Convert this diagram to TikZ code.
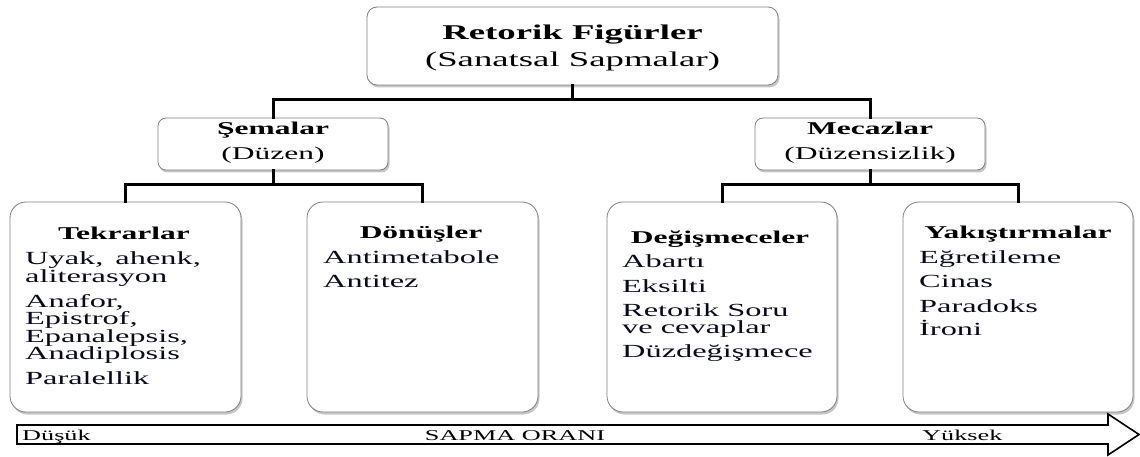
\documentclass[tikz,border=0pt]{standalone}
\usepackage{fontspec}
\setmainfont[FakeStretch=1.75]{Liberation Serif}
\usetikzlibrary{shadows}
\definecolor{itemc}{RGB}{10,10,28}
\definecolor{boxline}{RGB}{128,128,128}
\begin{document}
\begin{tikzpicture}[x=1pt,y=-1pt,
  box/.style={draw=boxline, line width=0.8pt, fill=white, rounded corners=10pt,
    drop shadow={shadow xshift=1.5pt, shadow yshift=-2.5pt, opacity=0.45, fill=gray},
    inner sep=0pt},
  bigbox/.style={box, rounded corners=16pt},
  conn/.style={line width=3pt, line cap=rect},
  ttl/.style={font=\fontsize{21pt}{23pt}\selectfont, inner sep=0pt, anchor=base},
  sub/.style={font=\fontsize{18pt}{20pt}\selectfont, inner sep=0pt, anchor=base},
  head/.style={font=\fontsize{18pt}{20pt}\selectfont\bfseries, inner sep=0pt, anchor=base},
  item/.style={font=\fontsize{18.5pt}{20pt}\selectfont, text=itemc, inner sep=0pt, anchor=base west},
  arr/.style={font=\fontsize{15pt}{17pt}\selectfont, inner sep=0pt, anchor=base}
]
\useasboundingbox (0,0) rectangle (1140,457);

% boxes
\node[box, minimum width=411pt, minimum height=78pt] (top) at (572.5,46) {};
\node[box, rounded corners=8pt, minimum width=230pt, minimum height=52pt] (sem) at (273,144) {};
\node[box, rounded corners=8pt, minimum width=230pt, minimum height=52pt] (mec) at (870,144) {};
\node[bigbox, minimum width=231pt, minimum height=210pt] (tek) at (125.5,307) {};
\node[bigbox, minimum width=231pt, minimum height=210pt] (don) at (422.5,307) {};
\node[bigbox, minimum width=230pt, minimum height=210pt] (deg) at (722,307) {};
\node[bigbox, minimum width=230pt, minimum height=210pt] (yak) at (1018,307) {};

% connectors
\coordinate (j1) at (572.5,100);
\coordinate (j2) at (273,185);
\coordinate (j3) at (870,185);
\draw[conn] (top.south) -- (j1);
\draw[conn] (sem.north) |- (j1) -| (mec.north);
\draw[conn] (sem.south) -- (j2);
\draw[conn] (tek.north) |- (j2) -| (don.north);
\draw[conn] (mec.south) -- (j3);
\draw[conn] (deg.north) |- (j3) -| (yak.north);

% top texts
\node[ttl, font=\fontsize{21pt}{23pt}\selectfont\bfseries] (t1) at (572.5,40) {Retorik Figürler};
\node[ttl] (t2) at (572.5,67) {(Sanatsal Sapmalar)};
\node[head] (s1) at (273,135) {Şemalar};
\node[sub] (s2) at (273,160) {(Düzen)};
\node[head] (m1) at (870,135) {Mecazlar};
\node[sub] (m2) at (870,160) {(Düzensizlik)};

% Tekrarlar
\node[head] (th) at (124,240) {Tekrarlar};
\node[item] (ti1) at (25,264) {Uyak,\hspace{4pt} ahenk,};
\node[item] (ti2) at (25,282) {aliterasyon};
\node[item] (ti3) at (25,307) {Anafor,};
\node[item] (ti4) at (25,324) {Epistrof,};
\node[item] (ti5) at (25,342) {Epanalepsis,};
\node[item] (ti6) at (25,359) {Anadiplosis};
\node[item] (ti7) at (25,384) {Paralellik};

% Dönüşler
\node[head] (dh) at (421,238) {Dönüşler};
\node[item] (di1) at (323,263) {Antimetabole};
\node[item] (di2) at (323,287) {Antitez};

% Değişmeceler
\node[head] (gh) at (720,243) {Değişmeceler};
\node[item] (gi1) at (622,267) {Abartı};
\node[item] (gi2) at (622,292) {Eksilti};
\node[item] (gi3) at (622,316) {Retorik Soru};
\node[item] (gi4) at (622,333) {ve cevaplar};
\node[item] (gi5) at (622,357) {Düzdeğişmece};

% Yakıştırmalar
\node[head] (yh) at (1018,238) {Yakıştırmalar};
\node[item] (yi1) at (919,263) {Eğretileme};
\node[item] (yi2) at (919,287) {Cinas};
\node[item] (yi3) at (919,312) {Paradoks};
\node[item] (yi4) at (919,335) {İroni};

% bottom arrow
\draw[line width=1.6pt, line join=miter] (17,425) -- (1108,425) -- (1108,414) -- (1139,434.5)
  -- (1108,455) -- (1108,444) -- (17,444) -- cycle;
\node[arr, anchor=base west] (a1) at (22,440) {Düşük};
\node[arr] (a2) at (515,440) {SAPMA ORANI};
\node[arr, anchor=base west] (a3) at (922,440) {Yüksek};
\end{tikzpicture}
\end{document}
